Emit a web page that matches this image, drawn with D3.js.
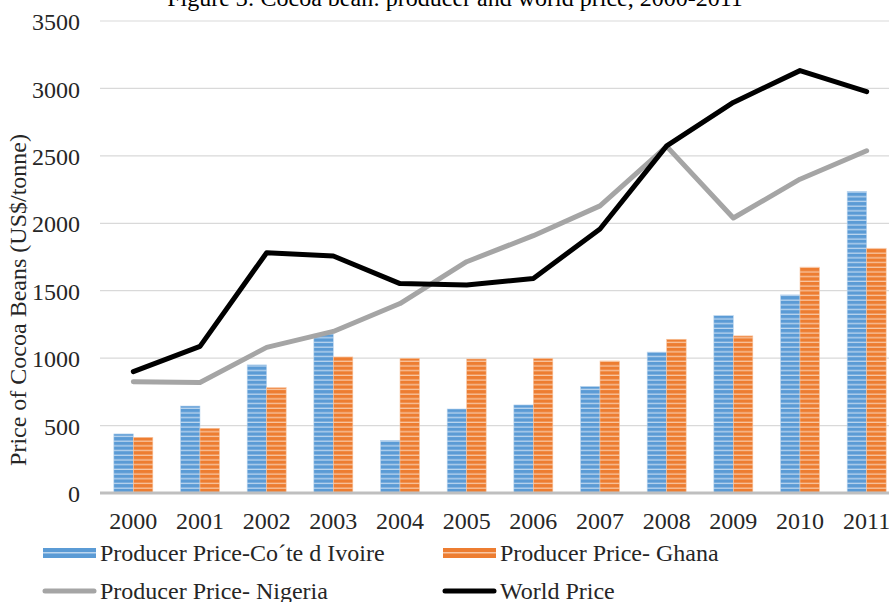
<!DOCTYPE html>
<html>
<head>
<meta charset="utf-8">
<script src="https://cdn.jsdelivr.net/npm/d3@7/dist/d3.min.js"></script>
<style>
    body { margin: 0; background: #fff; }
    svg { display: block; font-family: "Liberation Serif", "Times New Roman", serif; }
</style>
</head>
<body>
<svg id="chart" width="889" height="602"></svg>
<script>
// values (US$/tonne)
const years = ["2000", "2001", "2002", "2003", "2004", "2005", "2006", "2007", "2008", "2009", "2010", "2011"];
const coteDIvoire = [438, 645, 950, 1178, 390, 623, 653, 790, 1045, 1315, 1469, 2237];
const ghana = [413, 480, 781, 1009, 999, 994, 998, 979, 1140, 1165, 1675, 1815];
const nigeria = [825, 820, 1080, 1198, 1405, 1715, 1908, 2129, 2570, 2039, 2327, 2538];
const worldPrice = [900, 1087, 1782, 1757, 1553, 1543, 1591, 1958, 2574, 2896, 3132, 2976];
const yTicks = [0, 500, 1000, 1500, 2000, 2500, 3000, 3500];
const barSeries = ["Producer Price-Co\u00B4te d Ivoire", "Producer Price- Ghana"];
const lineSeries = ["Producer Price- Nigeria", "World Price"];
const titleText = "Figure 3: Cocoa bean: producer and world price, 2000-2011";
const yTitle = "Price of Cocoa Beans (US$/tonne)";

const svg = d3.select("#chart");
const margin = { left: 100, right: -11, top: 21, bottom: 109 };
const width = 889, height = 602;

const x = d3.scaleBand()
    .domain(years)
    .range([margin.left, width - margin.right])
    .paddingInner(0.415)
    .paddingOuter(0.2075);

const x1 = d3.scaleBand()
    .domain(barSeries)
    .range([0, x.bandwidth()]);

const y = d3.scaleLinear()
    .domain([0, 3500])
    .range([height - margin.bottom, margin.top]);

const colors = {
    [barSeries[0]]: { base: "#5b9bd5", stripe: "#bcd6ef", id: "pat-blue" },
    [barSeries[1]]: { base: "#ed7d31", stripe: "#f8c6a2", id: "pat-orange" }
};

// striped fills like the Excel pattern
const defs = svg.append("defs");
Object.values(colors).forEach(c => {
    const p = defs.append("pattern")
        .attr("id", c.id)
        .attr("patternUnits", "userSpaceOnUse")
        .attr("width", 10)
        .attr("height", 4.7);
    p.append("rect").attr("width", 10).attr("height", 4.7).attr("fill", c.base);
    p.append("rect").attr("y", 3.4).attr("width", 10).attr("height", 1.3).attr("fill", c.stripe);
});

// gridlines
svg.append("g")
    .selectAll("line")
    .data(yTicks.filter(d => d > 0))
    .join("line")
    .attr("x1", margin.left)
    .attr("x2", width - margin.right)
    .attr("y1", d => y(d))
    .attr("y2", d => y(d))
    .attr("stroke", "#d9d9d9")
    .attr("stroke-width", 1.2);

// y axis labels
const yAxis = d3.axisLeft(y).tickValues(yTicks).tickFormat(d3.format("d")).tickSize(0).tickPadding(20);
svg.append("g")
    .attr("transform", `translate(${margin.left}, 0)`)
    .call(yAxis)
    .call(g => g.select(".domain").remove())
    .selectAll("text")
    .attr("dy", "0.36em")
    .attr("font-size", 24)
    .attr("font-family", "Liberation Serif")
    .attr("fill", "#262626");

// bars
const barData = years.map((yr, i) => ({ year: yr, values: [
    { key: barSeries[0], value: coteDIvoire[i] },
    { key: barSeries[1], value: ghana[i] }
]}));

svg.append("g")
    .selectAll("g")
    .data(barData)
    .join("g")
    .attr("transform", d => `translate(${x(d.year)}, 0)`)
    .selectAll("rect")
    .data(d => d.values)
    .join("rect")
    .attr("x", d => x1(d.key))
    .attr("y", d => y(d.value))
    .attr("width", x1.bandwidth())
    .attr("height", d => y(0) - y(d.value))
    .attr("fill", d => `url(#${colors[d.key].id})`)
    .attr("stroke", d => colors[d.key].stripe)
    .attr("stroke-width", 0.6);

// x axis baseline
svg.append("line")
    .attr("x1", margin.left)
    .attr("x2", width - margin.right)
    .attr("y1", y(0))
    .attr("y2", y(0))
    .attr("stroke", "#bfbfbf")
    .attr("stroke-width", 3);

// x axis labels
const xAxis = d3.axisBottom(x).tickSize(0).tickPadding(19);
svg.append("g")
    .attr("transform", `translate(0, ${y(0)})`)
    .call(xAxis)
    .call(g => g.select(".domain").remove())
    .selectAll("text")
    .attr("font-size", 24)
    .attr("font-family", "Liberation Serif")
    .attr("fill", "#262626");

// lines
const line = d3.line()
    .x((d, i) => x(years[i]) + x.bandwidth() / 2)
    .y(d => y(d));

svg.append("path")
    .datum(nigeria)
    .attr("d", line)
    .attr("fill", "none")
    .attr("stroke", "#a5a5a5")
    .attr("stroke-width", 5)
    .attr("stroke-linejoin", "round")
    .attr("stroke-linecap", "round");

svg.append("path")
    .datum(worldPrice)
    .attr("d", line)
    .attr("fill", "none")
    .attr("stroke", "#000")
    .attr("stroke-width", 5)
    .attr("stroke-linejoin", "round")
    .attr("stroke-linecap", "round");

// title (cut off at top like the reference)
svg.append("text")
    .text(titleText)
    .attr("x", 455)
    .attr("y", 6)
    .attr("text-anchor", "middle")
    .attr("font-size", 24)
    .attr("fill", "#000");

// y axis title
svg.append("text")
    .text(yTitle)
    .attr("text-anchor", "middle")
    .attr("transform", `translate(26, 300) rotate(-90)`)
    .attr("font-size", 24)
    .attr("fill", "#262626");

// legend
const legendItems = [
    { label: barSeries[0], type: "bar", key: barSeries[0], lx: 43, ly: 553 },
    { label: barSeries[1], type: "bar", key: barSeries[1], lx: 443, ly: 553 },
    { label: lineSeries[0], type: "line", color: "#a5a5a5", lx: 43, ly: 591 },
    { label: lineSeries[1], type: "line", color: "#000", lx: 443, ly: 591 }
];

const legend = svg.append("g");
legendItems.forEach(item => {
    const g = legend.append("g").attr("transform", `translate(${item.lx}, ${item.ly})`);
    if (item.type === "bar") {
        g.append("rect")
            .attr("x", 0).attr("y", -5)
            .attr("width", 53).attr("height", 10)
            .attr("fill", colors[item.key].base);
        g.append("rect")
            .attr("x", 0).attr("y", -1)
            .attr("width", 53).attr("height", 1.5)
            .attr("fill", colors[item.key].stripe);
    } else {
        g.append("line")
            .attr("x1", 2).attr("x2", 51)
            .attr("stroke", item.color)
            .attr("stroke-width", 5)
            .attr("stroke-linecap", "round");
    }
    g.append("text")
        .text(item.label)
        .attr("x", 57)
        .attr("y", 8)
        .attr("font-size", 24)
        .attr("fill", "#262626");
});
</script>
</body>
</html>
